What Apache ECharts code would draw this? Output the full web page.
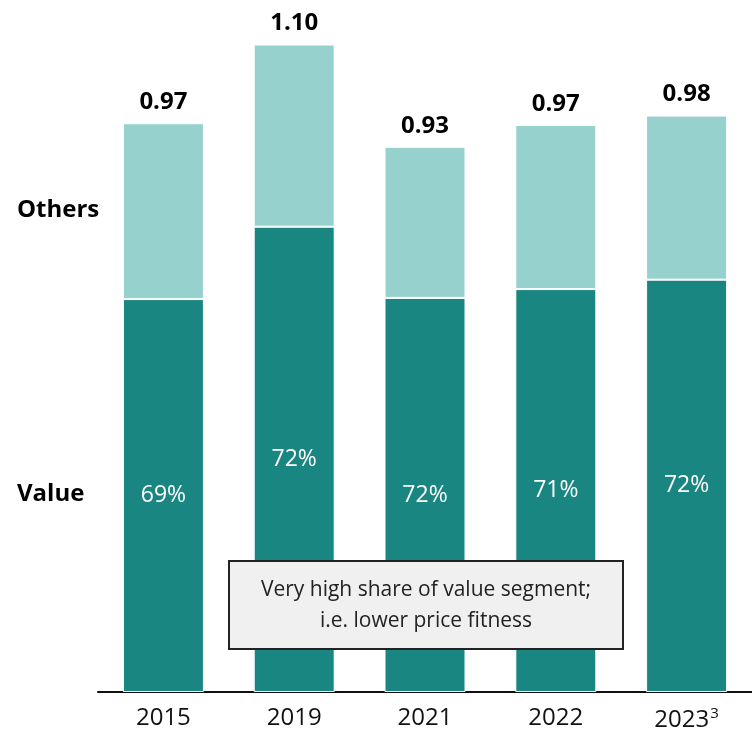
<!DOCTYPE html>
<html>
<head>
<meta charset="utf-8">
<title>Value vs Others</title>
<script src="https://cdn.jsdelivr.net/npm/echarts@6/dist/echarts.min.js"></script>
<style>
    html, body { margin: 0; padding: 0; background: #fff; }
    #chart { width: 752px; height: 735px; }
</style>
</head>
<body>
<div id="chart"></div>
<script>
var years = ['2015', '2019', '2021', '2022', '2023'];
var valueSeg = [0.668, 0.791, 0.670, 0.685, 0.701];
var othersSeg = [0.299, 0.310, 0.257, 0.279, 0.279];
var totalLabels = ['0.97', '1.10', '0.93', '0.97', '0.98'];
var shareLabels = ['69%', '72%', '72%', '71%', '72%'];

var font = '"Open Sans", "Noto Sans", sans-serif';
var chart = echarts.init(document.getElementById('chart'));

var option = {
    animation: false,
    grid: { left: 98, top: 45, width: 664, bottom: 43 },
    xAxis: {
        type: 'category',
        data: years,
        axisTick: { show: false },
        axisLine: { lineStyle: { color: '#111', width: 2 } },
        axisLabel: {
            interval: 0,
            margin: 14,
            color: '#111',
            fontSize: 24,
            fontFamily: font,
            formatter: function (v) {
                return v === '2023' ? v + '{sup|3}' : v;
            },
            rich: {
                sup: { fontSize: 15, verticalAlign: 'top', padding: [0, 0, 13, 1], color: '#111', fontFamily: font }
            }
        }
    },
    yAxis: {
        type: 'value',
        min: 0,
        max: 1.1,
        show: false,
        splitLine: { show: false }
    },
    series: [{
        name: 'Value',
        type: 'bar',
        stack: 'total',
        barWidth: 81,
        data: valueSeg,
        itemStyle: { color: '#1A8682', borderColor: '#fff', borderWidth: 1 },
        label: {
            show: true,
            position: 'inside',
            color: '#fff',
            fontSize: 23,
            fontFamily: font,
            formatter: function (p) { return shareLabels[p.dataIndex]; }
        }
    }, {
        name: 'Others',
        type: 'bar',
        stack: 'total',
        data: othersSeg,
        itemStyle: { color: '#96D1CE', borderColor: '#fff', borderWidth: 1 },
        label: {
            show: true,
            position: 'top',
            distance: 9,
            color: '#000',
            fontSize: 24,
            fontWeight: 'bold',
            fontFamily: font,
            formatter: function (p) { return totalLabels[p.dataIndex]; }
        }
    }],
    graphic: [{
        type: 'text',
        left: 17,
        top: 198,
        z: 100,
        style: { text: 'Others', fontSize: 24, fontWeight: 'bold', fill: '#000', fontFamily: font }
    }, {
        type: 'text',
        left: 17,
        top: 482,
        z: 100,
        style: { text: 'Value', fontSize: 24, fontWeight: 'bold', fill: '#000', fontFamily: font }
    }, {
        type: 'group',
        left: 228,
        top: 560,
        z: 100,
        children: [{
            type: 'rect',
            z: 100,
            shape: { x: 0, y: 0, width: 394, height: 88 },
            style: { fill: '#F0F0F0', stroke: '#222', lineWidth: 2 }
        }, {
            type: 'text',
            z: 101,
            x: 197,
            y: 45,
            style: {
                text: 'Very high share of value segment;\ni.e. lower price fitness',
                align: 'center',
                verticalAlign: 'middle',
                fontSize: 21,
                lineHeight: 31,
                fill: '#222',
                fontFamily: font
            }
        }]
    }]
};
chart.setOption(option);
</script>
</body>
</html>
